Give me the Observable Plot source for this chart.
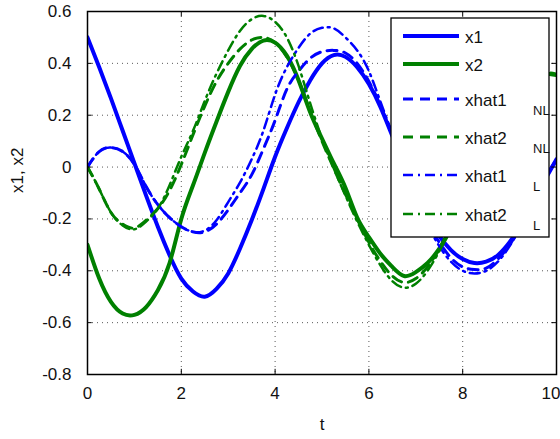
<!DOCTYPE html>
<html>
<head>
<meta charset="utf-8">
<script src="https://cdn.jsdelivr.net/npm/d3@7"></script>
<script src="https://cdn.jsdelivr.net/npm/@observablehq/plot@0.6"></script>
<style>
  html, body { margin: 0; padding: 0; background: #fff; }
  #chart svg { display: block; overflow: hidden; }
</style>
</head>
<body>
<div id="chart"></div>
<script>
// ---- data ----
const t = [0, 0.25, 0.5, 0.75, 1, 1.25, 1.5, 1.75, 2, 2.25, 2.5, 2.75, 3, 3.25, 3.5, 3.75, 4, 4.25, 4.5, 4.75, 5,
           5.25, 5.5, 5.75, 6, 6.25, 6.5, 6.75, 7, 7.25, 7.5, 7.75, 8, 8.25, 8.5, 8.75, 9, 9.25, 9.5, 9.75, 10];

const x1 = [0.50, 0.385, 0.265, 0.14, 0.015, -0.11, -0.23, -0.34, -0.43, -0.48, -0.50, -0.47, -0.41, -0.315, -0.205, -0.085, 0.04,
            0.15, 0.25, 0.335, 0.40, 0.432, 0.425, 0.385, 0.32, 0.23, 0.12, 0.01, -0.095, -0.19, -0.265, -0.32, -0.355,
            -0.37, -0.365, -0.34, -0.29, -0.22, -0.13, -0.05, 0.03];

const x2 = [-0.30, -0.43, -0.52, -0.565, -0.57, -0.54, -0.475, -0.37, -0.20, -0.07, 0.055, 0.175, 0.29, 0.39, 0.455, 0.488, 0.48,
            0.43, 0.335, 0.21, 0.11, 0.015, -0.08, -0.195, -0.27, -0.335, -0.385, -0.42, -0.405, -0.37, -0.315, -0.235, -0.12,
            -0.005, 0.10, 0.19, 0.26, 0.315, 0.35, 0.36, 0.355];

const xhat1NL = [0, 0.06, 0.075, 0.06, 0.01, -0.075, -0.145, -0.195, -0.23, -0.25, -0.25, -0.22, -0.165, -0.10, -0.03, 0.07, 0.18,
                 0.30, 0.37, 0.42, 0.445, 0.45, 0.44, 0.40, 0.33, 0.235, 0.125, 0.01, -0.105, -0.21, -0.29, -0.35, -0.385,
                 -0.395, -0.39, -0.355, -0.30, -0.225, -0.135, -0.045, 0.03];

const xhat2NL = [0, -0.085, -0.175, -0.22, -0.235, -0.205, -0.16, -0.09, 0.01, 0.125, 0.235, 0.33, 0.40, 0.455, 0.49, 0.50, 0.48,
                 0.425, 0.335, 0.215, 0.10, -0.005, -0.105, -0.20, -0.29, -0.365, -0.42, -0.445, -0.43, -0.385, -0.315, -0.225, -0.115,
                 -0.005, 0.10, 0.19, 0.26, 0.315, 0.35, 0.36, 0.355];

const xhat1L = [0, 0.06, 0.075, 0.06, 0.01, -0.075, -0.145, -0.195, -0.23, -0.25, -0.245, -0.205, -0.135, -0.06, 0.03, 0.14, 0.28,
                0.385, 0.46, 0.515, 0.537, 0.535, 0.50, 0.45, 0.37, 0.25, 0.13, 0.01, -0.11, -0.22, -0.305, -0.365, -0.40,
                -0.41, -0.40, -0.365, -0.305, -0.225, -0.135, -0.045, 0.03];

const xhat2L = [0, -0.085, -0.175, -0.225, -0.24, -0.21, -0.16, -0.07, 0.04, 0.14, 0.255, 0.36, 0.45, 0.525, 0.57, 0.583, 0.56,
                0.50, 0.39, 0.245, 0.11, -0.005, -0.11, -0.21, -0.30, -0.38, -0.44, -0.465, -0.45, -0.40, -0.325, -0.235, -0.125,
                -0.015, 0.09, 0.185, 0.26, 0.32, 0.355, 0.365, 0.36];

const xTicks = [0, 2, 4, 6, 8, 10];
const yTicks = [-0.8, -0.6, -0.4, -0.2, 0, 0.2, 0.4, 0.6];
const xGrid = [2, 4, 6, 8];
const yGrid = [-0.6, -0.4, -0.2, 0, 0.2, 0.4];

const legendLabels = ["x1", "x2", "xhat1", "xhat2", "xhat1", "xhat2"];
const legendSubs   = ["", "", "NL", "NL", "L", "L"];

// ---- styles ----
const BLUE = "#0000ff", GREEN = "#008000";
const seriesDefs = [
  {name: "x1",      values: x1,      color: BLUE,  width: 4,   dash: null},
  {name: "x2",      values: x2,      color: GREEN, width: 4,   dash: null},
  {name: "xhat1NL", values: xhat1NL, color: BLUE,  width: 3,   dash: "10,7"},
  {name: "xhat2NL", values: xhat2NL, color: GREEN, width: 3,   dash: "10,7"},
  {name: "xhat1L",  values: xhat1L,  color: BLUE,  width: 2.5, dash: "10,5,2,5"},
  {name: "xhat2L",  values: xhat2L,  color: GREEN, width: 2.5, dash: "10,5,2,5"}
];

const FONT = "'Liberation Sans', Arial, Helvetica, sans-serif";
const FS = 17;
const fmt = d => String(Math.round(d * 10) / 10);

const lineMarks = seriesDefs.map(s =>
  Plot.line(t.map((tt, i) => ({t: tt, v: s.values[i]})), {
    x: "t", y: "v", stroke: s.color, strokeWidth: s.width,
    strokeDasharray: s.dash ?? undefined, curve: "natural", clip: true
  })
);

const xTicksMid = xTicks.slice(0, -1);
const xTicksLast = xTicks.slice(-1);

const plot = Plot.plot({
  width: 560,
  height: 439,
  marginLeft: 87,
  marginRight: 4,
  marginTop: 11,
  marginBottom: 65,
  style: {fontFamily: FONT, fontSize: FS + "px", color: "#111", background: "#fff"},
  x: {domain: [0, 10], axis: null},
  y: {domain: [-0.8, 0.6], ticks: yTicks, tickSize: 0, tickPadding: 16, tickFormat: fmt, label: null},
  marks: [
    Plot.ruleX(xGrid, {x: d => d, stroke: "#222", strokeOpacity: 0.75, strokeDasharray: "1,4"}),
    Plot.ruleY(yGrid, {y: d => d, stroke: "#222", strokeOpacity: 0.75, strokeDasharray: "1,4"}),
    ...lineMarks,
    // inward ticks on all four sides
    Plot.ruleX(xTicks, {x: d => d, y1: -0.8, y2: -0.78, stroke: "#000", strokeWidth: 1}),
    Plot.ruleX(xTicks, {x: d => d, y1: 0.6, y2: 0.58, stroke: "#000", strokeWidth: 1}),
    Plot.ruleY(yTicks, {y: d => d, x1: 0, x2: 0.1, stroke: "#000", strokeWidth: 1}),
    Plot.ruleY(yTicks, {y: d => d, x1: 10, x2: 9.9, stroke: "#000", strokeWidth: 1}),
    Plot.frame({stroke: "#000", strokeWidth: 1.5}),
    // x tick labels
    Plot.text(xTicksMid, {x: d => d, text: fmt, frameAnchor: "bottom", dy: 24, fontSize: FS, fill: "#111", fontFamily: FONT}),
    Plot.text(xTicksLast, {x: d => d, text: fmt, frameAnchor: "bottom", dy: 24, dx: 4, textAnchor: "end", fontSize: FS, fill: "#111", fontFamily: FONT}),
    Plot.text(["t"], {frameAnchor: "bottom", dy: 55, fontSize: FS, fill: "#111", fontFamily: FONT}),
    Plot.text(["x1, x2"], {frameAnchor: "left", dx: -70, rotate: -90, fontSize: FS, fill: "#111", fontFamily: FONT})
  ]
});

document.getElementById("chart").appendChild(plot);

// ---- legend (drawn on top of the plot, like the reference) ----
const svg = d3.select(plot);
const lg = svg.append("g").attr("font-family", FONT).attr("text-anchor", "start");
lg.append("rect")
  .attr("x", 391).attr("y", 18).attr("width", 158).attr("height", 219)
  .attr("fill", "#fff").attr("stroke", "#000").attr("stroke-width", 1.3);
const rowY = [36, 64, 99, 137, 175, 214];
seriesDefs.forEach((s, i) => {
  const y = rowY[i];
  lg.append("line")
    .attr("x1", 403).attr("x2", 459).attr("y1", y).attr("y2", y)
    .attr("stroke", s.color).attr("stroke-width", s.width)
    .attr("stroke-dasharray", s.dash);
  lg.append("text")
    .attr("x", 465).attr("y", y + 7)
    .attr("font-size", 17).attr("fill", "#111")
    .attr("text-anchor", "start")
    .text(legendLabels[i]);
  if (legendSubs[i]) {
    lg.append("text")
      .attr("x", 533).attr("y", y + 16)
      .attr("font-size", 13).attr("fill", "#111")
      .attr("text-anchor", "start")
      .text(legendSubs[i]);
  }
});
</script>
</body>
</html>
